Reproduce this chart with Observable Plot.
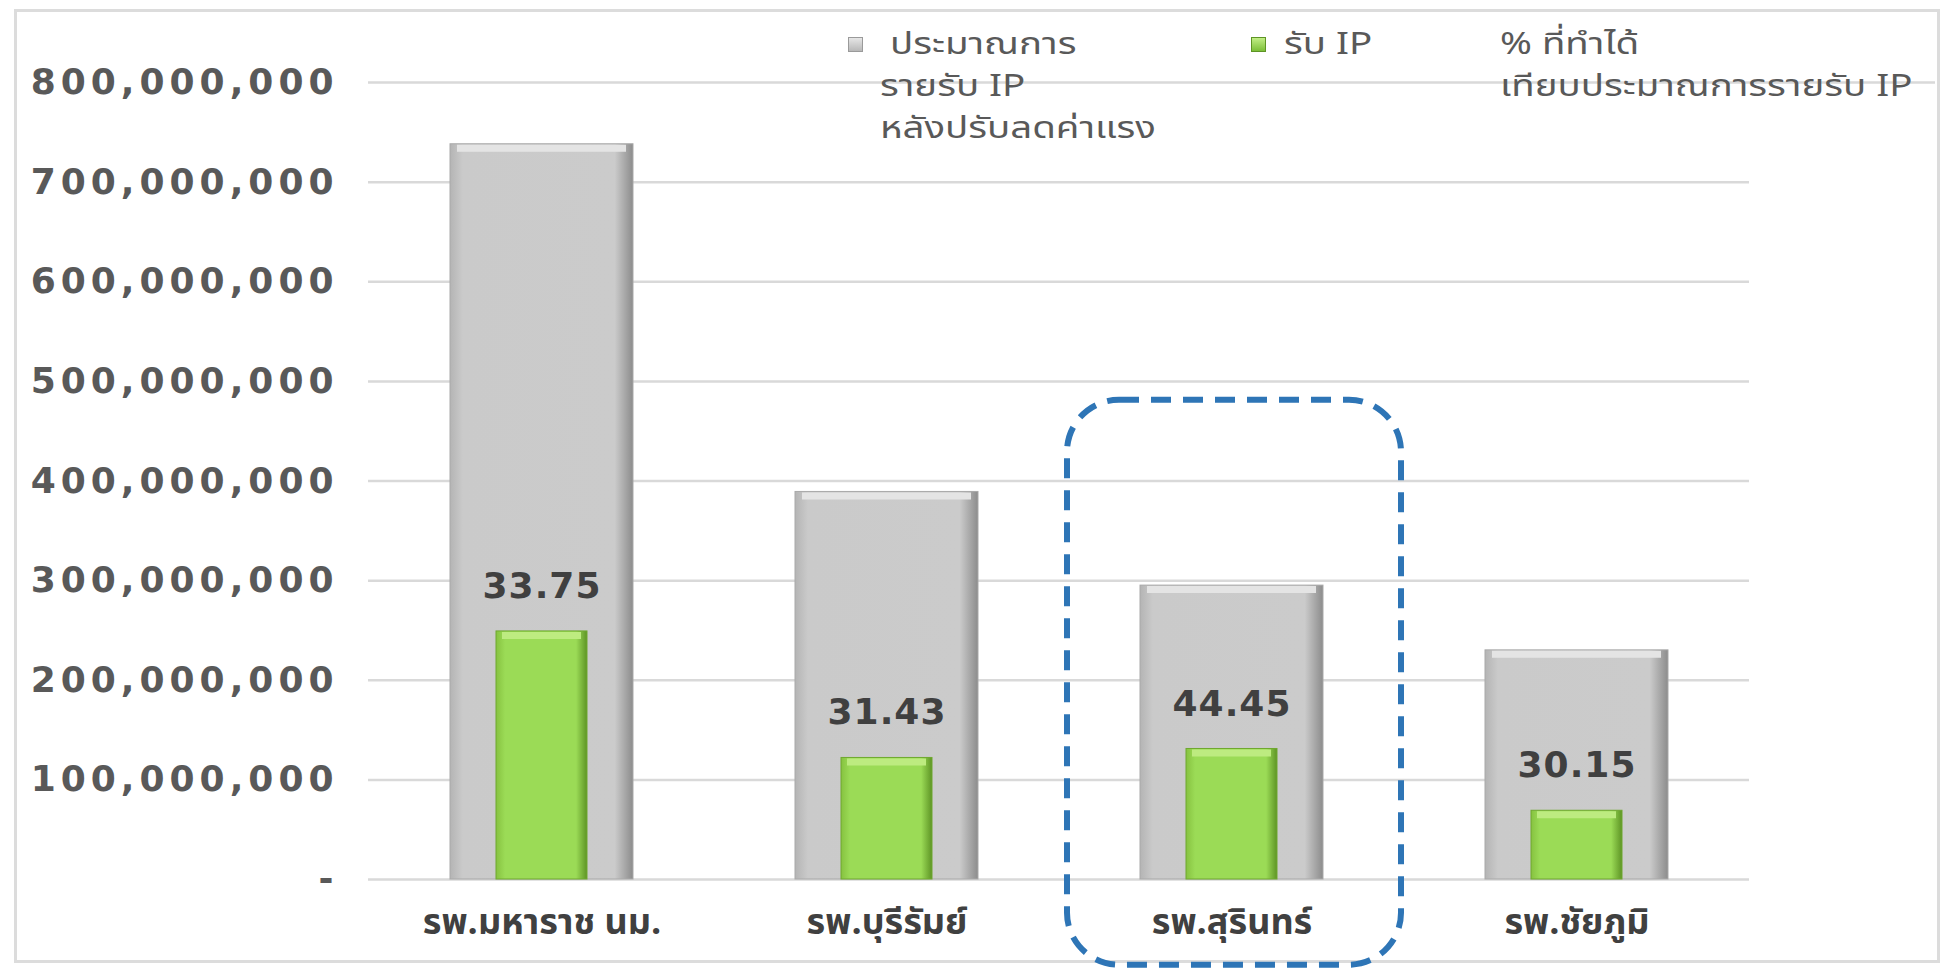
<!DOCTYPE html>
<html>
<head>
<meta charset="utf-8">
<script src="https://cdn.jsdelivr.net/npm/d3@7"></script>
<script src="https://cdn.jsdelivr.net/npm/@observablehq/plot@0.6"></script>
<style>
  html, body { margin: 0; padding: 0; background: #ffffff; }
  #wrap { position: relative; width: 1949px; height: 970px; overflow: hidden; background: #fff; }
  #frame { position: absolute; left: 14px; top: 9px; width: 1920px; height: 948px; border: 3px solid #dcdcdc; }
  #chart { position: absolute; left: 0; top: 0; }
  #chart svg { background: transparent !important; overflow: visible; }
  .leg { position: absolute; font-family: "Noto Sans Thai", "Noto Sans Thai UI", "Loma", "Garuda", "Noto Sans", "DejaVu Sans", sans-serif;
         font-size: 30px; line-height: 42px; color: #595959; white-space: nowrap;
         transform: scaleX(1.28); transform-origin: 0 0; }
  .leg div { height: 42px; }
  .sw { position: absolute; width: 15px; height: 15px; box-sizing: border-box; }
  g[aria-label="y-axis tick label"] text { letter-spacing: 5px; }
  g[aria-label="text"] text { letter-spacing: 1px; }
</style>
</head>
<body>
<div id="wrap">
  <div id="frame"></div>
  <div id="chart"></div>
</div>
<script>
// ---- data ----
const categories = ["รพ.มหาราช นม.", "รพ.บุรีรัมย์", "รพ.สุรินทร์", "รพ.ชัยภูมิ"];
const budget   = [738e6, 389e6, 295e6, 230e6];   // ประมาณการรายรับ IP หลังปรับลดค่าแรง
const received = [249e6, 122e6, 131e6, 69e6];    // รับ IP
const percent  = [33.75, 31.43, 44.45, 30.15];   // % ที่ทำได้
const yTicks   = [0, 100e6, 200e6, 300e6, 400e6, 500e6, 600e6, 700e6, 800e6];
const legendBudget   = ["\u00a0ประมาณการ", "รายรับ IP", "หลังปรับลดค่าแรง"];
const legendReceived = ["รับ IP"];
const legendPercent  = ["% ที่ทำได้", "เทียบประมาณการรายรับ IP"];
const highlighted = ["รพ.สุรินทร์"];
const highlightTop = 481e6;
const highlightBottom = -86e6;

const rows = categories.map((name, i) => ({name, budget: budget[i], received: received[i], percent: percent[i]}));
const boxRows = highlighted.map(name => ({name, y1: highlightTop, y2: highlightBottom}));

const fmt = d3.format(",");
const numFont = "DejaVu Sans, Verdana, sans-serif";
const thaiFont = "Noto Sans Thai, Noto Sans Thai UI, Loma, Garuda, Noto Sans, DejaVu Sans, sans-serif";

const plot = Plot.plot({
  width: 1949,
  height: 970,
  marginLeft: 368,
  marginRight: 200,
  marginTop: 82,
  marginBottom: 91,
  style: {background: "transparent", color: "#595959"},
  x: {domain: categories, padding: 0, label: null},
  y: {domain: [0, 800e6], label: null},
  marks: [
    Plot.ruleY(yTicks.filter(d => d < 800e6), {stroke: "#d9d9d9", strokeWidth: 2.5}),
    Plot.ruleY([800e6], {stroke: "#d9d9d9", strokeWidth: 2.5, insetRight: -186}),
    Plot.barY(rows, {x: "name", y: "budget", fill: "url(#gGray)", stroke: "#a9a9a9", strokeWidth: 1, insetLeft: 81, insetRight: 81}),
    Plot.tickY(rows, {x: "name", y: "budget", stroke: "#e4e4e4", strokeWidth: 7, dy: 4, insetLeft: 88, insetRight: 88}),
    Plot.barY(rows, {x: "name", y: "received", fill: "url(#gGreen)", stroke: "#6fa82f", strokeWidth: 1, insetLeft: 127, insetRight: 127}),
    Plot.tickY(rows, {x: "name", y: "received", stroke: "#bdeb80", strokeWidth: 7, dy: 4, insetLeft: 133, insetRight: 133}),
    Plot.text(rows, {x: "name", y: "received", text: d => d.percent.toFixed(2), dy: -45, fill: "#404040",
      fontSize: 36, fontWeight: "bold", fontFamily: numFont, textAnchor: "middle", lineAnchor: "middle"}),
    Plot.axisY({ticks: yTicks, tickFormat: d => d === 0 ? "-" : fmt(d), tickSize: 0, tickPadding: 30, label: null,
      fontSize: 36, fontWeight: "bold", fontFamily: numFont, fill: "#595959"}),
    Plot.axisX({tickSize: 0, tickPadding: 29, label: null, fontSize: 36, fontWeight: "bold", fontFamily: thaiFont, fill: "#404040"}),
    Plot.rect(boxRows, {x: "name", y1: "y1", y2: "y2", fill: "none", stroke: "#2e75b6", strokeWidth: 6,
      strokeDasharray: "20,12", rx: 52, insetLeft: 8, insetRight: 3})
  ]
});

// gradients for bevelled bars
d3.select(plot).insert("defs", ":first-child").html(`
  <linearGradient id="gGray" x1="0" x2="1" y1="0" y2="0">
    <stop offset="0" stop-color="#b4b4b4"/>
    <stop offset="0.07" stop-color="#cacaca"/>
    <stop offset="0.9" stop-color="#cbcbcb"/>
    <stop offset="1" stop-color="#8c8c8c"/>
  </linearGradient>
  <linearGradient id="gGreen" x1="0" x2="1" y1="0" y2="0">
    <stop offset="0" stop-color="#86c240"/>
    <stop offset="0.1" stop-color="#9bdb56"/>
    <stop offset="0.88" stop-color="#9bdb56"/>
    <stop offset="1" stop-color="#5e9425"/>
  </linearGradient>`);

document.getElementById("chart").appendChild(plot);

// legend (HTML, overlaid on top of the chart area)
const wrap = document.getElementById("wrap");
function addLegend(lines, left, top, swatch) {
  if (swatch) {
    const s = document.createElement("div");
    s.className = "sw";
    s.style.left = swatch.left + "px";
    s.style.top = (top + 13) + "px";
    s.style.background = swatch.bg;
    s.style.border = "1px solid " + swatch.border;
    wrap.appendChild(s);
  }
  const t = document.createElement("div");
  t.className = "leg";
  t.style.left = left + "px";
  t.style.top = top + "px";
  for (const l of lines) {
    const d = document.createElement("div");
    d.textContent = l;
    t.appendChild(d);
  }
  wrap.appendChild(t);
}
addLegend(legendBudget, 880, 24, {left: 848, bg: "linear-gradient(#e6e6e6,#b8b8b8)", border: "#9a9a9a"});
addLegend(legendReceived, 1284, 24, {left: 1251, bg: "linear-gradient(#c2ee86,#7cbf38)", border: "#5e9425"});
addLegend(legendPercent, 1500, 24, null);
</script>
</body>
</html>
